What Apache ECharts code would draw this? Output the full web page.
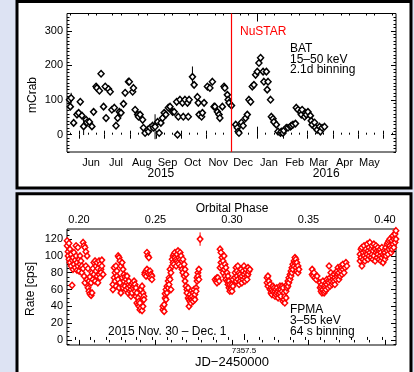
<!DOCTYPE html>
<html><head><meta charset="utf-8">
<script src="https://cdn.jsdelivr.net/npm/echarts@6/dist/echarts.min.js"></script>
<style>html,body{margin:0;padding:0;background:#dde3f3;}#c{width:414px;height:372px;}</style>
</head><body><div id="c"></div>
<script>
// ===== Top panel: Swift/BAT 15-50 keV light curve (MJD, mCrab) =====
const batMjd = [57162,57163,57164,57167,57171,57173,57175,57177,57179,57182,57183,57186,57189,57191,57194,57195,57198,57200,57203,57205,57206,57209,57211,57213,57216,57218,57220,57222,57224,57227,57229,57233,57234,57238,57239,57241,57244,57245,57247,57250,57251,57253,57256,57257,57259,57262,57263,57265,57268,57270,57272,57274,57276,57278,57281,57283,57286,57288,57291,57292,57293,57295,57298,57299,57301,57304,57305,57306,57310,57312,57316,57317,57318,57321,57322,57324,57328,57331,57334,57336,57337,57340,57342,57343,57346,57348,57349,57352,57353,57354,57357,57362,57364,57365,57366,57369,57371,57374,57376,57378,57380,57382,57384,57386,57388,57390,57392,57395,57396,57399,57400,57401,57404,57405,57407,57408,57411,57413,57416,57417,57419,57420,57423,57425,57428,57429,57431,57434,57435,57437,57440,57441,57442,57445,57446,57447,57449,57452,57453,57454,57457,57458,57460,57463,57464,57466,57469];
const batFlux = [101,81,106,34,58,63,95,55,24,43,35,37,24,66,139,135,127,176,81,139,48,132,124,72,78,26,48,66,63,89,121,153,153,124,135,72,58,52,58,43,20,5,14,9,20,26,20,23,37,5,34,48,63,58,78,81,66,66,95,0,52,101,92,52,101,92,52,101,167,144,109,92,58,52,63,92,139,135,153,81,81,66,58,48,81,139,135,115,101,92,84,29,20,9,5,35,26,48,58,101,95,139,144,173,182,207,222,182,153,182,130,153,101,52,46,37,29,9,5,9,5,12,20,20,23,26,29,32,78,72,66,58,72,52,63,58,66,55,40,29,35,20,14,23,9,20,23];
// large error bars visible in the picture: [mjd, flux, error]
const batLargeErr = [[57164,106,15],[57179,24,25],[57265,23,36],[57310,167,30]];
const batTypicalErr = 6;
const nustarMjd = 57357;
const topXRange = [57159, 57555];
const topYRange = [-50, 350];
const topYLabels = [0, 100, 200, 300];
const monthStarts = [57143,57174,57204,57235,57266,57296,57327,57357,57388,57419,57448,57479,57509,57540];
const monthMid = [57188,57218,57249,57280,57310,57341,57371,57402,57433,57462,57493,57523];
const monthNames = ['Jun','Jul','Aug','Sep','Oct','Nov','Dec','Jan','Feb','Mar','Apr','May'];
const yearTick = [57388];
const yearMid = [57272, 57471];
const yearNames = ['2015', '2016'];

// ===== Bottom panel: NuSTAR FPMA 3-55 keV, 64 s bins (JD-2450000, cps) =====
const orbit1 = [[7356.924,118],[7356.924,112],[7356.927,105],[7356.927,100],[7356.930,115],[7356.930,96],[7356.933,108],[7356.933,92],[7356.937,102],[7356.937,88],[7356.940,65],[7356.940,95],[7356.943,98],[7356.943,84],[7356.946,90],[7356.946,104],[7356.950,86],[7356.950,95],[7356.953,112],[7356.953,100],[7356.956,92],[7356.956,83],[7356.959,110],[7356.959,88],[7356.963,96],[7356.963,82],[7356.966,90],[7356.966,100],[7356.969,86],[7356.969,94],[7356.972,80],[7356.972,88],[7356.976,116],[7356.976,85],[7356.979,112],[7356.979,76],[7356.982,110],[7356.982,68],[7356.985,105],[7356.985,88],[7356.989,100],[7356.989,72],[7356.992,62],[7356.992,85],[7356.995,58],[7356.995,70],[7356.998,55],[7356.998,75],[7357.002,53],[7357.002,68],[7357.005,56],[7357.005,80],[7357.008,72],[7357.008,85],[7357.011,78],[7357.011,92],[7357.015,94],[7357.015,70],[7357.018,88],[7357.018,82],[7357.021,76],[7357.021,92],[7357.024,85],[7357.024,68],[7357.028,78],[7357.028,94],[7357.031,90],[7357.031,74],[7357.034,84],[7357.034,80],[7357.037,88],[7357.037,95],[7357.041,78]];
const orbit2 = [[7357.073,60],[7357.073,66],[7357.077,74],[7357.077,86],[7357.080,80],[7357.080,70],[7357.083,64],[7357.083,88],[7357.086,82],[7357.086,76],[7357.090,100],[7357.090,72],[7357.093,98],[7357.093,62],[7357.096,94],[7357.096,68],[7357.099,88],[7357.099,56],[7357.103,92],[7357.103,74],[7357.106,84],[7357.106,62],[7357.109,78],[7357.109,70],[7357.112,75],[7357.112,64],[7357.116,72],[7357.116,60],[7357.119,68],[7357.119,76],[7357.122,62],[7357.122,56],[7357.125,66],[7357.125,70],[7357.129,64],[7357.129,58],[7357.132,60],[7357.132,52],[7357.135,56],[7357.135,66],[7357.138,68],[7357.138,62],[7357.142,70],[7357.142,64],[7357.145,58],[7357.145,66],[7357.148,52],[7357.148,62],[7357.151,44],[7357.151,56],[7357.155,42],[7357.155,50],[7357.158,40],[7357.158,46],[7357.161,36],[7357.161,44],[7357.164,38],[7357.164,60],[7357.168,35],[7357.168,64],[7357.171,40],[7357.171,56],[7357.174,52],[7357.174,48]];
const orbit3 = [[7357.177,80],[7357.177,78],[7357.181,82],[7357.181,76],[7357.184,104],[7357.184,84],[7357.187,100],[7357.187,80],[7357.190,98],[7357.190,78],[7357.194,82],[7357.194,74],[7357.197,78],[7357.200,76],[7357.200,72]];
const orbit4 = [[7357.236,36],[7357.236,40],[7357.240,42],[7357.240,34],[7357.243,50],[7357.243,55],[7357.246,60],[7357.246,48],[7357.249,64],[7357.249,56],[7357.253,70],[7357.253,62],[7357.256,74],[7357.256,66],[7357.259,84],[7357.259,72],[7357.262,80],[7357.262,60],[7357.266,88],[7357.266,96],[7357.269,100],[7357.269,92],[7357.272,102],[7357.272,90],[7357.275,98],[7357.275,104],[7357.279,96],[7357.279,88],[7357.282,102],[7357.282,94],[7357.285,106],[7357.285,92],[7357.288,98],[7357.288,90],[7357.292,104],[7357.292,96],[7357.295,100],[7357.295,88],[7357.298,94],[7357.298,84],[7357.301,96],[7357.301,80],[7357.305,90],[7357.305,76],[7357.308,70],[7357.308,84],[7357.311,64],[7357.311,78],[7357.314,60],[7357.314,56],[7357.318,50],[7357.318,62],[7357.321,48],[7357.321,40],[7357.324,46],[7357.324,54],[7357.327,44],[7357.327,50],[7357.331,48],[7357.331,52],[7357.334,46],[7357.334,56],[7357.337,50],[7357.337,60],[7357.340,54],[7357.340,48],[7357.344,62],[7357.344,58],[7357.347,70],[7357.347,74],[7357.350,80],[7357.350,76],[7357.353,84],[7357.353,72],[7357.357,120]];
const orbit5 = [[7357.406,72],[7357.409,70],[7357.412,68],[7357.412,74],[7357.415,74],[7357.419,70],[7357.422,108],[7357.422,86],[7357.425,104],[7357.425,92],[7357.428,98],[7357.428,88],[7357.432,94],[7357.432,80],[7357.435,100],[7357.435,84],[7357.438,90],[7357.438,76],[7357.441,86],[7357.441,72],[7357.445,80],[7357.445,70],[7357.448,76],[7357.448,66],[7357.451,70],[7357.451,62],[7357.454,66],[7357.454,58],[7357.458,62],[7357.458,60],[7357.461,58],[7357.461,66],[7357.464,72],[7357.464,64],[7357.471,80],[7357.471,74],[7357.474,86],[7357.474,70],[7357.477,76],[7357.477,82],[7357.480,88],[7357.480,72],[7357.484,80],[7357.484,66],[7357.487,78],[7357.487,70],[7357.490,84],[7357.490,74],[7357.493,76],[7357.493,68],[7357.497,82],[7357.497,72],[7357.500,88],[7357.500,78],[7357.503,74],[7357.503,70],[7357.506,80],[7357.506,84],[7357.510,76],[7357.510,72],[7357.513,86],[7357.513,78],[7357.516,82],[7357.519,84]];
const orbit6 = [[7357.575,74],[7357.575,68],[7357.578,76],[7357.578,64],[7357.581,70],[7357.585,66],[7357.585,60],[7357.588,62],[7357.588,56],[7357.591,60],[7357.591,54],[7357.594,58],[7357.594,64],[7357.598,62],[7357.598,56],[7357.601,58],[7357.601,52],[7357.604,60],[7357.604,54],[7357.607,56],[7357.607,62],[7357.611,58],[7357.611,50],[7357.614,54],[7357.614,60],[7357.617,56],[7357.617,64],[7357.620,60],[7357.620,52],[7357.624,64],[7357.624,58],[7357.627,62],[7357.627,46],[7357.630,56],[7357.630,48],[7357.633,52],[7357.633,44],[7357.637,50],[7357.637,58],[7357.640,62],[7357.640,66],[7357.643,70],[7357.643,64],[7357.646,74],[7357.646,68],[7357.650,78],[7357.650,72],[7357.653,82],[7357.653,76],[7357.656,86],[7357.656,80],[7357.659,90],[7357.659,84],[7357.663,94],[7357.663,88],[7357.666,98],[7357.666,92],[7357.669,96],[7357.669,86],[7357.672,92],[7357.672,82],[7357.676,88],[7357.676,80],[7357.679,84]];
const orbit7 = [[7357.722,84],[7357.722,78],[7357.725,76],[7357.728,80],[7357.731,74],[7357.735,72],[7357.738,76],[7357.748,62],[7357.748,68],[7357.751,58],[7357.751,64],[7357.754,56],[7357.754,66],[7357.757,60],[7357.757,70],[7357.761,56],[7357.761,64],[7357.764,62],[7357.764,58],[7357.767,68],[7357.767,60],[7357.770,66],[7357.770,72],[7357.774,62],[7357.774,70],[7357.777,68],[7357.777,88],[7357.780,74],[7357.780,64],[7357.783,70],[7357.783,80],[7357.787,66],[7357.787,76],[7357.790,72],[7357.790,68],[7357.793,78],[7357.793,70],[7357.796,74],[7357.796,66],[7357.800,80],[7357.800,72],[7357.803,76],[7357.803,82],[7357.806,86],[7357.806,78],[7357.809,80],[7357.809,72],[7357.813,84],[7357.813,76],[7357.816,82],[7357.816,88],[7357.819,78],[7357.819,86],[7357.822,84],[7357.822,90],[7357.826,80],[7357.829,86],[7357.832,92],[7357.835,88]];
const orbit8 = [[7357.878,94],[7357.878,102],[7357.881,108],[7357.881,98],[7357.884,110],[7357.884,88],[7357.888,104],[7357.888,96],[7357.891,100],[7357.891,112],[7357.894,106],[7357.894,94],[7357.897,98],[7357.897,108],[7357.901,102],[7357.901,114],[7357.904,96],[7357.904,106],[7357.907,110],[7357.907,100],[7357.910,116],[7357.910,104],[7357.914,108],[7357.914,98],[7357.917,112],[7357.917,102],[7357.920,106],[7357.920,96],[7357.923,114],[7357.923,100],[7357.927,108],[7357.927,94],[7357.930,104],[7357.930,112],[7357.933,98],[7357.933,106],[7357.936,102],[7357.936,110],[7357.940,96],[7357.940,106],[7357.943,100],[7357.943,108],[7357.946,94],[7357.946,104],[7357.949,98],[7357.949,110],[7357.953,102],[7357.953,92],[7357.956,106],[7357.956,100],[7357.959,96],[7357.959,104],[7357.962,110],[7357.962,100],[7357.966,106],[7357.966,114],[7357.969,102],[7357.969,116],[7357.972,108],[7357.972,118],[7357.975,112],[7357.975,120],[7357.979,110],[7357.979,104],[7357.982,118],[7357.982,108],[7357.985,114],[7357.985,124],[7357.988,120],[7357.988,110],[7357.992,126],[7357.992,116],[7357.995,130],[7357.995,120]];
// visible error bars in FPMA panel: [jd, rate, error]
const fpmaLargeErr = [[7357.357,120,8]];
const botXRange = [7356.9235, 7357.9951];   // JD - 2450000
const phaseRange = [0.19216, 0.40719];       // orbital phase over the same span
const phaseLabels = [0.20, 0.25, 0.30, 0.35, 0.40];
const jdLabels = [7357.5];
const botYRange = [-6, 132];
const botYLabels = [0, 20, 40, 60, 80, 100, 120];

// ===== build =====
const FONT = '"Liberation Sans", Arial, Helvetica, sans-serif';
const r3 = v => Math.round(v * 1000) / 1000;
function steps(a, b, s) { const o = []; for (let v = a; v <= b + 1e-9; v += s) o.push(r3(v)); return o; }
const monthMinor = [];
monthStarts.forEach(m => { [10, 20].forEach(d => { const v = m + d; if (v > topXRange[0] && v < topXRange[1]) monthMinor.push(v); }); });
const tickStyle = { color: '#000', width: 1 };
function axis(o) {
  return {
    type: 'value', gridIndex: o.grid, position: o.pos, min: o.range[0], max: o.range[1],
    axisLine: { show: false }, splitLine: { show: false },
    axisTick: { show: true, inside: true, length: o.len, customValues: o.ticks, lineStyle: tickStyle },
    axisLabel: o.labels ? { show: true, customValues: o.labels, formatter: o.fmt, margin: o.margin, fontSize: o.fs || 11, color: '#000', fontFamily: FONT } : { show: false }
  };
}
const xAxes = [
  axis({ grid: 0, pos: 'bottom', range: topXRange, ticks: monthStarts.filter(v => v > topXRange[0]), len: 4, labels: monthMid, fmt: v => monthNames[monthMid.indexOf(v)], margin: 5 }),
  axis({ grid: 0, pos: 'bottom', range: topXRange, ticks: monthMinor, len: 2 }),
  axis({ grid: 0, pos: 'bottom', range: topXRange, ticks: yearTick, len: 8, labels: yearMid, fmt: v => yearNames[yearMid.indexOf(v)], margin: 16, fs: 12 }),
  axis({ grid: 0, pos: 'top', range: topXRange, ticks: monthStarts.filter(v => v > topXRange[0]), len: 4 }),
  axis({ grid: 0, pos: 'top', range: topXRange, ticks: monthMinor, len: 2 }),
  axis({ grid: 0, pos: 'top', range: topXRange, ticks: yearTick, len: 8 }),
  axis({ grid: 1, pos: 'top', range: phaseRange, ticks: phaseLabels, len: 5, labels: phaseLabels, fmt: v => v.toFixed(2), margin: 4 }),
  axis({ grid: 1, pos: 'top', range: phaseRange, ticks: steps(0.20, 0.40, 0.01), len: 2.5 }),
  axis({ grid: 1, pos: 'bottom', range: botXRange, ticks: jdLabels, len: 6, labels: jdLabels, fmt: v => v.toFixed(1), margin: 2, fs: 8 }),
  axis({ grid: 1, pos: 'bottom', range: botXRange, ticks: steps(7356.95, 7357.95, 0.05), len: 3 })
];
const yAxes = [
  axis({ grid: 0, pos: 'left', range: topYRange, ticks: topYLabels, len: 5, labels: topYLabels, fmt: v => String(v), margin: 4 }),
  axis({ grid: 0, pos: 'left', range: topYRange, ticks: steps(-50, 350, 10), len: 2.5 }),
  axis({ grid: 0, pos: 'right', range: topYRange, ticks: topYLabels, len: 5 }),
  axis({ grid: 0, pos: 'right', range: topYRange, ticks: steps(-50, 350, 10), len: 2.5 }),
  axis({ grid: 1, pos: 'left', range: botYRange, ticks: botYLabels, len: 5, labels: botYLabels, fmt: v => String(v), margin: 4 }),
  axis({ grid: 1, pos: 'left', range: botYRange, ticks: steps(-5, 130, 5), len: 2.5 }),
  axis({ grid: 1, pos: 'right', range: botYRange, ticks: botYLabels, len: 5 }),
  axis({ grid: 1, pos: 'right', range: botYRange, ticks: steps(-5, 130, 5), len: 2.5 })
];

const batData = batMjd.map((m, i) => [m, batFlux[i]]);
const batErrData = batData.map(p => { const big = batLargeErr.find(b => b[0] === p[0]); return [p[0], p[1], big ? big[2] : batTypicalErr]; });
const fpmaData = [].concat(orbit1, orbit2, orbit3, orbit4, orbit5, orbit6, orbit7, orbit8);
// vertical marker: [x, y from, y to]
const nustarLine = [[nustarMjd, topYRange[0], topYRange[1]]];

function errRender(color) {
  return function (params, api) {
    const x = api.value(0), y = api.value(1), e = api.value(2);
    const a = api.coord([x, y - e]), b = api.coord([x, y + e]);
    return { type: 'line', shape: { x1: a[0], y1: a[1], x2: b[0], y2: b[1] }, style: { stroke: color, lineWidth: 1 } };
  };
}
function vlineRender(params, api) {
  const x = api.value(0);
  const a = api.coord([x, api.value(1)]), b = api.coord([x, api.value(2)]);
  return { type: 'line', shape: { x1: a[0], y1: a[1], x2: b[0], y2: b[1] }, style: { stroke: '#ff0000', lineWidth: 1.2 } };
}
const txt = (x, y, text, o = {}) => ({ type: 'text', x, y, z: 100, rotation: o.rot || 0,
  style: { text, font: (o.size || 12) + 'px ' + FONT, fill: o.color || '#000', align: o.align || 'left', verticalAlign: 'middle' } });

const chart = echarts.init(document.getElementById('c'), null, { renderer: 'canvas' });
chart.setOption({
  animation: false,
  backgroundColor: '#dde3f3',
  grid: [
    { left: 67, top: 13.5, width: 329, height: 138.5, show: true, backgroundColor: 'transparent', borderColor: '#000', borderWidth: 1 },
    { left: 67, top: 229, width: 329, height: 116, show: true, backgroundColor: 'transparent', borderColor: '#000', borderWidth: 1 }
  ],
  xAxis: xAxes,
  yAxis: yAxes,
  graphic: [
    { type: 'rect', z: -10, shape: { x: 17, y: 1.5, width: 394, height: 186.5 }, style: { fill: '#fff', stroke: '#000', lineWidth: 3 } },
    { type: 'rect', z: -10, shape: { x: 17, y: 193.7, width: 394, height: 200 }, style: { fill: '#fff', stroke: '#000', lineWidth: 3 } },
    txt(33, 95, 'mCrab', { rot: Math.PI / 2, align: 'center' }),
    txt(240, 32, 'NuSTAR', { color: '#ff0000' }),
    txt(290, 49, 'BAT'),
    txt(290, 59.5, '15\u201350 keV'),
    txt(290, 70, '2.1d binning'),
    txt(31, 289, 'Rate [cps]', { rot: Math.PI / 2, align: 'center' }),
    txt(232, 209, 'Orbital Phase', { align: 'center' }),
    txt(232, 362, 'JD\u22122450000', { align: 'center', size: 13 }),
    txt(108, 332, '2015 Nov. 30 \u2013 Dec. 1'),
    txt(290, 310, 'FPMA'),
    txt(290, 321, '3\u201355 keV'),
    txt(290, 332, '64 s binning')
  ],
  series: [
    { type: 'custom', xAxisIndex: 0, yAxisIndex: 0, renderItem: vlineRender, data: nustarLine, z: 5, silent: true },
    { type: 'custom', xAxisIndex: 0, yAxisIndex: 0, renderItem: errRender('#000'), data: batErrData, z: 2, silent: true },
    { type: 'scatter', xAxisIndex: 0, yAxisIndex: 0, data: batData, symbol: 'diamond', symbolSize: [6, 6.5], z: 3,
      itemStyle: { color: '#ffffff', borderColor: '#000', borderWidth: 1.5, opacity: 1 } },
    { type: 'custom', xAxisIndex: 8, yAxisIndex: 4, renderItem: errRender('#ff0000'), data: fpmaLargeErr, z: 2, silent: true },
    { type: 'scatter', xAxisIndex: 8, yAxisIndex: 4, data: fpmaData, symbol: 'diamond', symbolSize: [5.5, 6], z: 3,
      itemStyle: { color: '#ffffff', borderColor: '#ff0000', borderWidth: 1.5, opacity: 1 } }
  ]
});
</script></body></html>
